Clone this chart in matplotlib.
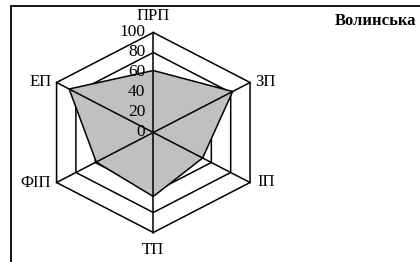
import numpy as np
import matplotlib
matplotlib.use('Agg')
import matplotlib.pyplot as plt
from matplotlib.patches import Rectangle

plt.rcParams['font.family'] = ['Liberation Serif', 'DejaVu Serif']

# data
categories = ['ПРП', 'ЗП', 'ІП', 'ТП', 'ФІП', 'ЕП']
values = [62, 82, 51, 64, 59, 87]
ring_levels = [20, 40, 60, 80, 100]
tick_values = [0, 20, 40, 60, 80, 100]
title = 'Волинська'

# label placement (pixels offset from the outer vertex)
label_offsets = [(0, 17), (5, 0), (7, 0), (0, -18), (-6, 0), (-5, 0)]
label_ha = ['center', 'left', 'left', 'center', 'right', 'right']

W, H = 420, 262
fig = plt.figure(figsize=(W / 100, H / 100), dpi=100)

# centre of the radar in pixels (from top-left), Excel stretches x a bit
cx, cy = 153.3, 132.5
sx = 1.117  # px per unit in x
lim = 130
ax = fig.add_axes([(cx - lim * sx) / W, (H - cy - lim) / H, 2 * lim * sx / W, 2 * lim / H])
ax.set_xlim(-lim, lim)
ax.set_ylim(-lim, lim)
ax.axis('off')

n = len(categories)
theta = np.arange(n) * 2 * np.pi / n
sin_t, cos_t = np.sin(theta), np.cos(theta)

# hexagon grid
for lv in ring_levels:
    xs = np.append(lv * sin_t, lv * sin_t[0])
    ys = np.append(lv * cos_t, lv * cos_t[0])
    ax.plot(xs, ys, color='black', lw=1.1, zorder=1, clip_on=False)

# data area
v = np.array(values, dtype=float)
ax.fill(v * sin_t, v * cos_t, facecolor='#c0c0c0', edgecolor='black', lw=1.1, zorder=2)

# spokes over the fill
top = ring_levels[-1]
for s, c in zip(sin_t, cos_t):
    ax.plot([0, top * s], [0, top * c], color='black', lw=1.1, zorder=3)

# category labels
for name, s, c, off, ha in zip(categories, sin_t, cos_t, label_offsets, label_ha):
    ax.annotate(name, (top * s, top * c), xytext=off, textcoords='offset pixels',
                ha=ha, va='center', fontsize=12, zorder=5)

# radial tick labels
for tv in tick_values:
    ax.annotate(str(tv), (0, tv), xytext=(-8, 0), textcoords='offset pixels',
                ha='right', va='center', fontsize=12.5, zorder=4)

# outer frame (cut by the picture edge on right and bottom)
fig.patches.append(Rectangle((11 / W, -0.1), 1.2, 1.1 - 6 / H, transform=fig.transFigure,
                             fill=False, edgecolor='black', lw=1.3))

fig.text(335 / W, 1 - 21.5 / H, title, ha='left', va='center', fontsize=12, fontweight='bold')

fig.savefig('out.png', dpi=100)
